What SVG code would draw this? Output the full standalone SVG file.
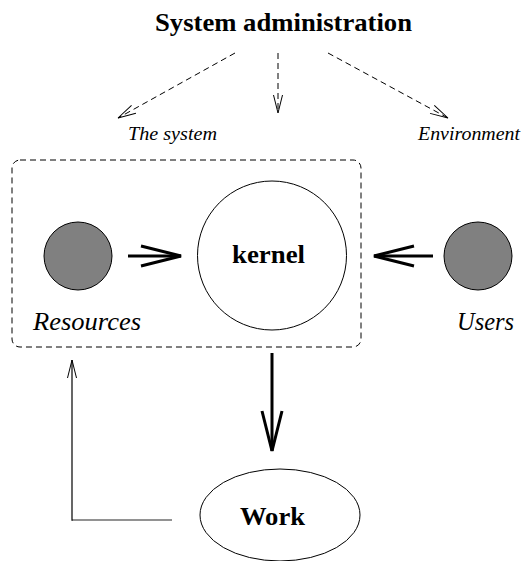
<svg xmlns="http://www.w3.org/2000/svg" width="521" height="561" viewBox="0 0 521 561">
<style>
.t{font-family:"Liberation Serif","Times New Roman","DejaVu Serif",serif;fill:#000}
.b{font-weight:bold}
.i{font-style:italic}
.dash{fill:none;stroke:#000;stroke-width:1;stroke-dasharray:6,4}
.thick{fill:none;stroke:#000;stroke-width:3}
.thin{fill:none;stroke:#000;stroke-width:1.2}
</style>
<defs>
<marker id="bigV" markerUnits="userSpaceOnUse" viewBox="-44 -12 48 24" refX="0" refY="0" markerWidth="48" markerHeight="24" orient="auto">
<path d="M-40,-10 L0,0 L-40,10" fill="none" stroke="#000" stroke-width="3"/>
</marker>
<marker id="smallV" markerUnits="userSpaceOnUse" viewBox="-20 -6 22 12" refX="0" refY="0" markerWidth="22" markerHeight="12" orient="auto">
<path d="M-18,-4.5 L0,0 L-18,4.5" fill="none" stroke="#000" stroke-width="1"/>
</marker>
</defs>
<rect x="0" y="0" width="521" height="561" fill="#fff"/>
<g id="title"><text class="t b" x="155" y="31" font-size="26" textLength="257" lengthAdjust="spacingAndGlyphs">System administration</text></g>
<g id="label-system"><text class="t i" x="128" y="140" font-size="19.5" textLength="89" lengthAdjust="spacingAndGlyphs">The system</text></g>
<g id="label-environment"><text class="t i" x="418" y="140" font-size="19.5" textLength="102" lengthAdjust="spacingAndGlyphs">Environment</text></g>
<g id="system-box"><rect class="dash" x="12" y="160" width="349" height="187" rx="8" ry="8"/></g>
<g id="resources"><circle cx="78" cy="256" r="34" fill="#808080" stroke="#000" stroke-width="1"/>
<text class="t i" x="33" y="330" font-size="25.5" textLength="108" lengthAdjust="spacingAndGlyphs">Resources</text></g>
<g id="kernel"><circle cx="272" cy="255.5" r="74.5" fill="#fff" stroke="#000" stroke-width="1"/>
<text class="t b" x="232" y="263" font-size="26" textLength="73" lengthAdjust="spacingAndGlyphs">kernel</text></g>
<g id="users"><circle cx="478" cy="256" r="34" fill="#808080" stroke="#000" stroke-width="1"/>
<text class="t i" x="457" y="330" font-size="25.5" textLength="57" lengthAdjust="spacingAndGlyphs">Users</text></g>
<g id="work"><ellipse cx="280" cy="515" rx="80" ry="46" fill="#fff" stroke="#000" stroke-width="1"/>
<text class="t b" x="240" y="525" font-size="26" textLength="65" lengthAdjust="spacingAndGlyphs">Work</text></g>
<g id="connectors">
<line class="dash" x1="235" y1="53" x2="118" y2="118" marker-end="url(#smallV)"/>
<line class="dash" x1="278" y1="53" x2="278" y2="113" marker-end="url(#smallV)"/>
<line class="dash" x1="328" y1="53" x2="448" y2="118" marker-end="url(#smallV)"/>
<line class="thick" x1="128" y1="256" x2="181" y2="256" marker-end="url(#bigV)"/>
<line class="thick" x1="433" y1="256" x2="374" y2="256" marker-end="url(#bigV)"/>
<line class="thick" x1="272" y1="353" x2="272" y2="451" marker-end="url(#bigV)"/>
<line x1="172" y1="520" x2="72" y2="520" stroke="#6e6e6e" stroke-width="1.6"/>
<line class="thin" x1="72" y1="520.8" x2="72" y2="360" marker-end="url(#smallV)"/>
</g>
</svg>
